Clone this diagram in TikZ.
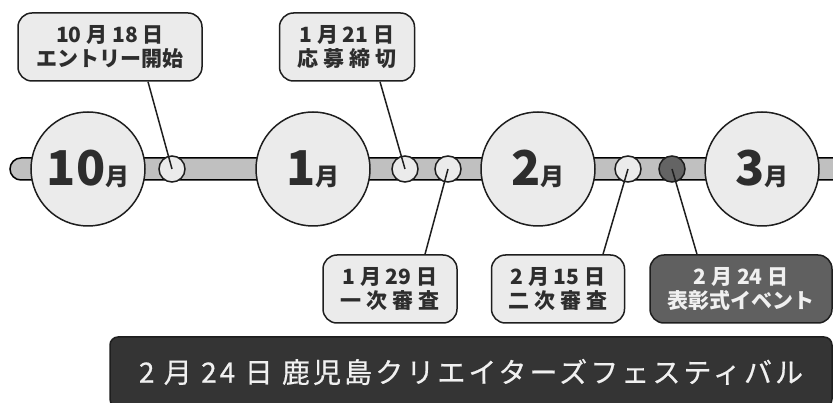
\documentclass[tikz,border=0pt]{standalone}
\usepackage{fontspec}
\usepackage{tikz}
\newfontfamily\jp{Noto Sans CJK JP}
\newfontfamily\jpm[FakeBold=0.6]{Noto Sans CJK JP}
\definecolor{node_fill}{RGB}{235,235,235}
\definecolor{bar_fill}{RGB}{192,192,192}
\definecolor{edge_dark}{RGB}{30,30,30}
\definecolor{text_dark}{RGB}{45,45,45}
\definecolor{dot_dark}{RGB}{100,100,100}
\definecolor{box_dark}{RGB}{96,96,96}
\definecolor{banner_dark}{RGB}{52,52,52}
\definecolor{text_light}{RGB}{240,240,240}

\begin{document}
\begin{tikzpicture}[x=1pt,y=-1pt,line width=1.5pt]
    \tikzstyle{month}=[draw=edge_dark, circle, minimum size=114pt, fill=node_fill, text=text_dark, inner sep=0pt, font=\jp\bfseries]
    \tikzstyle{dot}=[draw=edge_dark, circle, minimum size=26pt, fill=node_fill, inner sep=0pt]
    \tikzstyle{dotdark}=[style=dot, fill=dot_dark]
    \tikzstyle{note}=[draw=edge_dark, rounded corners=14pt, fill=node_fill, text=text_dark, minimum height=68pt, align=center, inner sep=0pt, font=\jp\bfseries\fontsize{21}{24}\selectfont]
    \tikzstyle{notedark}=[style=note, fill=box_dark, text=text_light]
    \tikzstyle{banner}=[draw=edge_dark, rounded corners=8pt, fill=banner_dark, text=text_light, minimum width=722pt, minimum height=70pt, inner sep=0pt, font=\jpm\fontsize{28}{32}\selectfont\addfontfeature{LetterSpace=11}]
    \newcommand{\mon}[1]{{\fontsize{48}{48}\selectfont #1}{\fontsize{24}{24}\selectfont 月}}

    \useasboundingbox (0,0) rectangle (833,403);

    % timeline bar
    \draw[fill=bar_fill, rounded corners=11pt] (10,158) rectangle (846,180);

    \node[month] (m10) at (88,169)  {\mon{10}};
    \node[month] (m1)  at (313,169) {\mon{1}};
    \node[month] (m2)  at (538,169) {\mon{2}};
    \node[month] (m3)  at (762,169) {\mon{3}};

    \node[dot]     (d1) at (172,169) {};
    \node[dot]     (d2) at (405,169) {};
    \node[dot]     (d3) at (448,169) {};
    \node[dot]     (d4) at (628,169) {};
    \node[dotdark] (d5) at (672,169) {};

    \node[note, minimum width=184pt] (n1) at (110,47)  {10 月 18 日\\エントリー開始};
    \node[note, minimum width=135pt] (n2) at (347,47)  {1 月 21 日\\応 募 締 切};
    \node[note, minimum width=134pt] (n3) at (390,289) {1 月 29 日\\一 次 審 査};
    \node[note, minimum width=133pt] (n4) at (558,289) {2 月 15 日\\二 次 審 査};
    \node[notedark, minimum width=182pt] (n5) at (741,289) {2 月 24 日\\表彰式イベント};

    \node[banner] (fest) at (471,372) {2 月 24 日 鹿児島クリエイターズフェスティバル};

    \path[draw=edge_dark]
     ([xshift=38pt]n1.south) edge (d1.center)
     ([xshift=33pt]n2.south) edge (d2.center)
     ([xshift=35pt]n3.north) edge (d3.center)
     ([xshift=45pt]n4.north) edge (d4.center)
     ([xshift=-44pt]n5.north) edge (d5.center)
     ;
\end{tikzpicture}
\end{document}
